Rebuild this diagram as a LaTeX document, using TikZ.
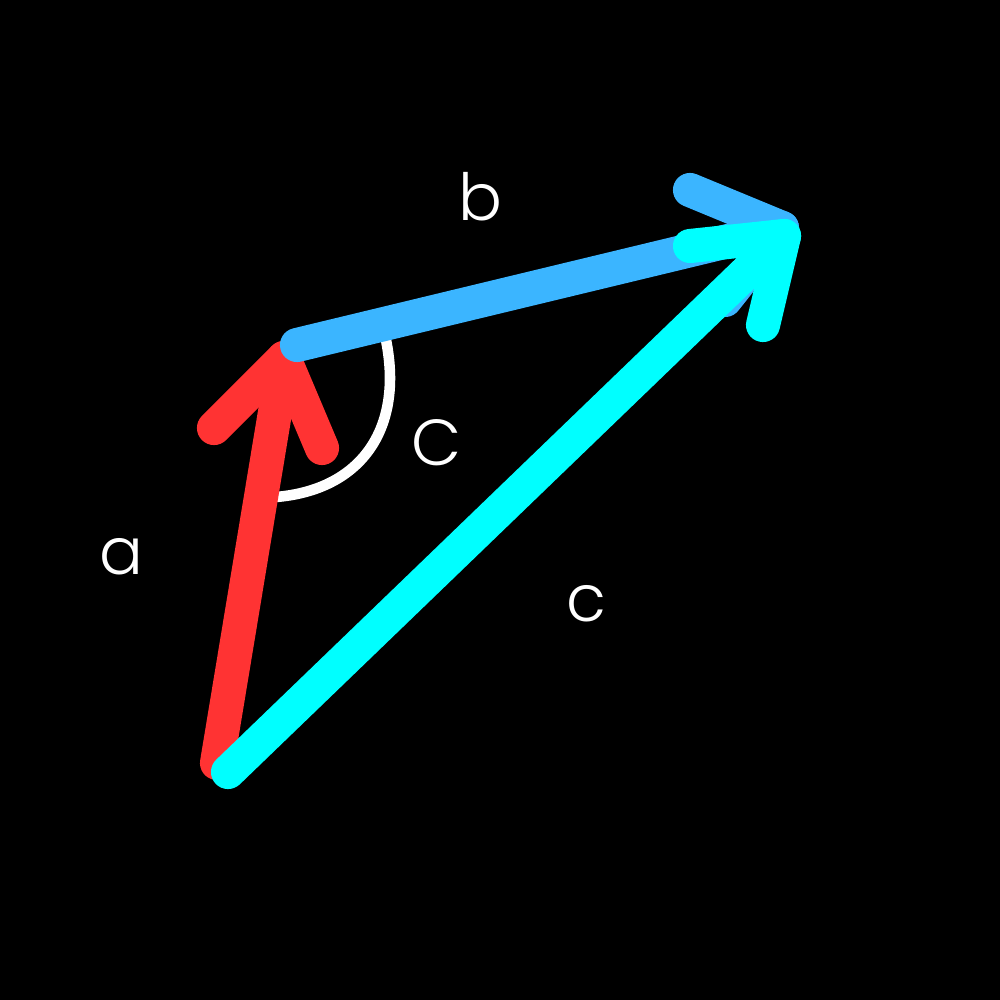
\documentclass[tikz,border=0pt]{standalone}
\usepackage{fontspec}
\setmainfont{Poppins}[UprightFont=* Light]
\begin{document}
\begin{tikzpicture}[x=0.01cm,y=-0.01cm,
  vec/.style={line width=9.7pt,line cap=round,line join=round},
  lbl/.style={text=white,font=\fontsize{18.5}{18.5}\selectfont,inner sep=0pt}]
\fill[black] (0,0) rectangle (1000,1000);
\useasboundingbox (0,0) rectangle (1000,1000);
% points
\coordinate (A) at (217,763);
\coordinate (B) at (284,358);
\coordinate (Bb) at (297,345);
\coordinate (T) at (782,228);
\coordinate (Cs) at (228,772);
\coordinate (Ct) at (784,236);
\coordinate (ra1) at (214,428);
\coordinate (ra2) at (322,448);
\coordinate (ba1) at (690,190);
\coordinate (ba2) at (725,300);
\coordinate (ca1) at (690,246);
\coordinate (ca2) at (763,325);
\coordinate (w1) at (386,340);
\coordinate (w2) at (276,497);
% angle arc
\draw[white,line width=3pt] (w1) .. controls (404,430) and (360,490) .. (w2);
% a
\draw[vec,color={rgb,255:red,255;green,51;blue,51}] (A) -- (B);
\draw[vec,color={rgb,255:red,255;green,51;blue,51}] (ra1) -- (B) -- (ra2);
% b
\draw[vec,color={rgb,255:red,59;green,181;blue,255}] (Bb) -- (T);
\draw[vec,color={rgb,255:red,59;green,181;blue,255}] (ba1) -- (T) -- (ba2);
% c
\draw[vec,color={rgb,255:red,0;green,255;blue,255}] (Cs) -- (Ct);
\draw[vec,color={rgb,255:red,0;green,255;blue,255}] (ca1) -- (Ct) -- (ca2);
% labels
\node[lbl] (la) at (121,557) {a};
\node[lbl] (lb) at (480,197) {b};
\node[lbl] (lC) at (437,443) {C};
\node[lbl] (lc) at (586,604) {c};
\end{tikzpicture}
\end{document}
